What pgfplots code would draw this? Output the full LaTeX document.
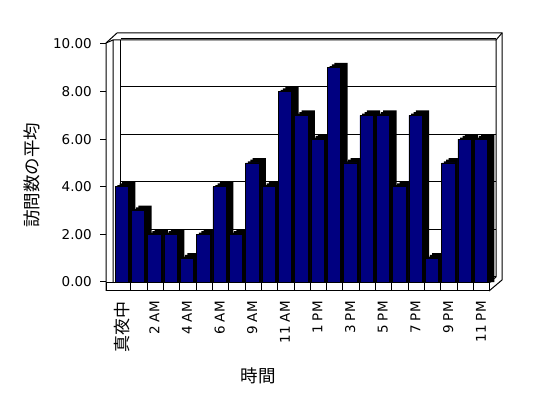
\documentclass[border=0pt]{standalone}
\usepackage{pgfplots}
\pgfplotsset{compat=1.18}
\usepackage{pgfplotstable}
\usepackage{fontspec}
\setmainfont{DejaVu Sans}
\newfontfamily\jp{Noto Sans CJK JP}
\definecolor{barblue}{RGB}{0,0,128}

\pgfplotstableread{
x v
0 4
1 3
2 2
3 2
4 1
5 2
6 4
7 2
8 5
9 4
10 8
11 7
12 6
13 9
14 5
15 7
16 7
17 4
18 7
19 1
20 5
21 6
22 6
}\datatable

\begin{document}
\begin{tikzpicture}
\useasboundingbox (0,0) rectangle (548bp,398bp);
\begin{scope}[shift={(0bp,398bp)}, x=1bp, y=-1bp, line width=1bp]
 \draw (106,291) -- (106,43) -- (117,33) -- (502,33) -- (502,280) -- (489,291);
 \draw (113,283) -- (113,40) -- (496,40) -- (496,277) -- (489,283);
 \draw (120,277) -- (120,40);
 \draw (106,43) -- (113,40);
 \draw (502,33) -- (496,40);
 \foreach \v in {0,2,...,10} \draw (100,{282-23.8*\v}) -- (106,{282-23.8*\v});
\end{scope}
\begin{axis}[
 at={(113.5bp,116bp)}, anchor=south west, scale only axis,
 width=375.5bp, height=238bp,
 xmin=-0.5, xmax=22.5, ymin=0, ymax=10,
 clip=false,
 axis line style={draw=none},
 major tick length=0pt,
 ytick={0,2,...,10},
 xtick={0,2,...,22},
 xticklabels={{\jp\fontsize{17bp}{20bp}\selectfont 真夜中},2 AM,4 AM,6 AM,9 AM,11 AM,1 PM,3 PM,5 PM,7 PM,9 PM,11 PM},
 ymajorgrids,
 grid style={black, line width=1bp, xshift=7bp, yshift=5bp},
 xticklabel style={rotate=90, anchor=east, inner sep=0pt, font=\fontsize{13.5bp}{16bp}\selectfont},
 xticklabel shift=19bp,
 yticklabel style={anchor=east, inner sep=0pt, xshift=-21.5bp, font=\fontsize{13.5bp}{16bp}\selectfont, /pgf/number format/.cd, fixed, fixed zerofill, precision=2, assume math mode=true},
 xlabel={\jp 時間},
 ylabel={\jp 訪問数の平均},
 xlabel style={at={([xshift=-43bp,yshift=-94bp]rel axis cs:0.5,0)}, anchor=center, font=\fontsize{17.5bp}{20bp}\selectfont},
 ylabel style={at={([xshift=-82bp,yshift=-12bp]rel axis cs:0,0.5)}, anchor=center, font=\fontsize{17.5bp}{20bp}\selectfont},
]
\addplot[ybar, bar width=13.3bp, bar shift=2.33bp, fill=black, draw=none] table[x=x, y expr=\thisrow{v}+0.07] {\datatable};
\addplot[ybar, bar width=13.3bp, bar shift=4.67bp, fill=black, draw=none] table[x=x, y expr=\thisrow{v}+0.14] {\datatable};
\addplot[ybar, bar width=13.3bp, bar shift=7bp, fill=black, draw=none] table[x=x, y expr=\thisrow{v}+0.21] {\datatable};
\addplot[ybar, bar width=13.3bp, bar shift=0bp, fill=barblue, draw=black, line width=0.6bp] table[x=x, y=v] {\datatable};
\end{axis}
\begin{scope}[shift={(0bp,398bp)}, x=1bp, y=-1bp, line width=1bp]
 \draw[fill=white] (106,283) rectangle (489,291);
 \foreach \i in {0,...,21} \draw ({130.7+16.33*\i},283) -- ({130.7+16.33*\i},291);
\end{scope}
\end{tikzpicture}
\end{document}
